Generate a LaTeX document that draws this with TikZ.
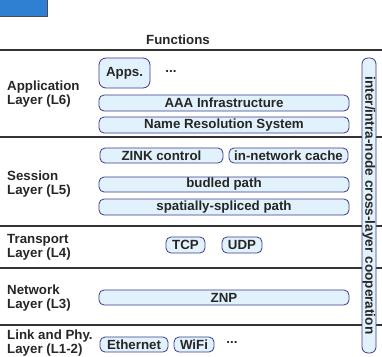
\documentclass[tikz,border=0pt]{standalone}
\usepackage{fontspec}
\setmainfont{Liberation Sans}
\begin{document}
\begin{tikzpicture}[x=1pt,y=-1pt,
  every node/.style={font=\fontsize{13.3}{14}\selectfont\bfseries, text=black!85},
  fbox/.style={draw=boxline, fill=boxfill, line width=0.8pt, rounded corners=5pt, inner sep=0pt, minimum height=16pt},
  bar/.style={fbox, minimum width=250pt},
  layerlbl/.style={anchor=west, align=left, inner sep=0pt},
  sep/.style={draw=black!80, line width=1.2pt},
  dots/.style={inner sep=0pt, anchor=base}]
\definecolor{boxline}{HTML}{3A3A8A}
\definecolor{boxfill}{HTML}{E2F2FC}
\definecolor{topblue}{HTML}{2F7FD2}
\useasboundingbox (0,0) rectangle (382,356);
% top-left marker
\path[fill=topblue] (0,0) rectangle (48,17);
\draw[black!70, line width=0.8pt] (47.6,0) -- (47.6,16.6) -- (0,16.6);
% heading
\node (func) at (178,40) {Functions};
% separators
\coordinate (l0a) at (0,50);   \coordinate (l0b) at (382,50);
\coordinate (l1a) at (0,137);  \coordinate (l1b) at (382,137);
\coordinate (l2a) at (0,226);  \coordinate (l2b) at (382,226);
\coordinate (l3a) at (0,268);  \coordinate (l3b) at (382,268);
\coordinate (l4a) at (0,325);  \coordinate (l4b) at (382,325);
\draw[sep] (l0a) -- (l0b);
\draw[sep] (l1a) -- (l1b);
\draw[sep] (l2a) -- (l2b);
\draw[sep] (l3a) -- (l3b);
\draw[sep] (l4a) -- (l4b);
% layer labels
\node[layerlbl] (lab6) at (7,94) {Application\\Layer (L6)};
\node[layerlbl] (lab5) at (7,184) {Session\\Layer (L5)};
\node[layerlbl] (lab4) at (7,247.5) {Transport\\Layer (L4)};
\node[layerlbl] (lab3) at (7,298) {Network\\Layer (L3)};
\node[layerlbl] (lab12) at (7,343.5) {Link and Phy.\\Layer (L1-2)};
% application layer
\node[fbox, rounded corners=7pt, minimum width=51pt, minimum height=30pt] (apps) at (124.5,73) {Apps.};
\node[dots] (dots1) at (171,72) {...};
\node[bar] (aaa) at (224,103) {AAA Infrastructure};
\node[bar] (nrs) at (224,125) {Name Resolution System};
% session layer
\node[fbox, minimum width=123pt, minimum height=15pt] (zink) at (161.5,155.5) {ZINK control};
\node[fbox, minimum width=119pt, minimum height=15pt] (cache) at (288.5,155.5) {in-network cache};
\node[bar, minimum height=15pt] (bud) at (224,184.5) {budled path};
\node[bar] (spl) at (224,207) {spatially-spliced path};
% transport layer
\node[fbox, minimum width=39pt] (tcp) at (185.5,245) {TCP};
\node[fbox, minimum width=40pt] (udp) at (242,245) {UDP};
% network layer
\node[bar, minimum height=15pt] (znp) at (224,297.5) {ZNP};
% link layer
\node[fbox, minimum width=68pt, minimum height=15pt] (eth) at (134,344.5) {Ethernet};
\node[fbox, minimum width=40pt, minimum height=15pt] (wifi) at (194,344.5) {WiFi};
\node[dots] (dots2) at (232,343) {...};
% cross-layer cooperation
\node[fbox, rounded corners=6pt, minimum width=295pt, minimum height=14pt, rotate=-90, inner sep=0pt] (coop) at (369,205.5) {\fontsize{13.6}{14}\selectfont inter/intra-node cross-layer cooperation};
\end{tikzpicture}
\end{document}
